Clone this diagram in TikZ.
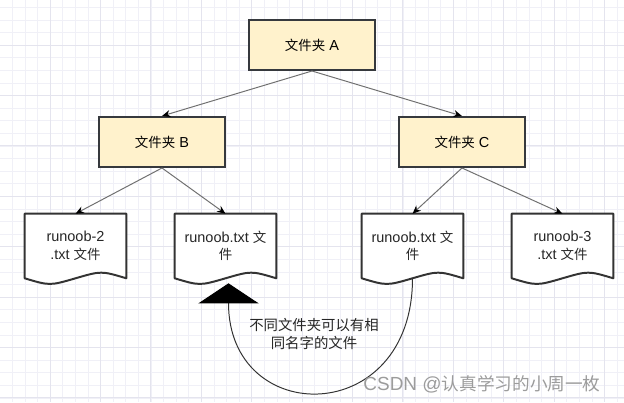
\documentclass[tikz,border=0pt]{standalone}
\usepackage{fontspec}
\setmainfont{Liberation Sans}
\newfontfamily\cjk[Scale=0.93]{Noto Sans CJK SC}
\usepackage{tikz}
\usetikzlibrary{arrows.meta,positioning,calc,backgrounds}
\definecolor{folderfill}{HTML}{FFF2CC}
\definecolor{folderline}{HTML}{36393D}
\definecolor{fileline}{HTML}{333333}
\definecolor{linkgray}{HTML}{707070}
\definecolor{gridminor}{HTML}{F0F0F7}
\definecolor{gridmajor}{HTML}{E4E4EE}
\definecolor{markgray}{HTML}{9C9C9C}
\newcommand{\zh}[1]{{\cjk #1}}
\newcommand{\fileoutline}[1]{%
  \draw[fileedge] (#1.north west) -- (#1.north east) -- (#1.south east)
    .. controls ($(#1.south east)+(-25,-7.5)$) .. (#1.south)
    .. controls ($(#1.south west)+(25,7.5)$) .. (#1.south west) -- cycle;}

\begin{document}
\begin{tikzpicture}[x=0.025cm, y=-0.025cm,
    font=\fontsize{10.3}{12.5}\selectfont,
    folder/.style={draw=folderline, fill=folderfill, line width=1.4pt,
      minimum width=3.15cm, minimum height=1.25cm, inner sep=0pt},
    filebox/.style={minimum width=2.525cm, minimum height=1.6cm,
      inner sep=0pt, align=center, text=black!85},
    fileedge/.style={draw=fileline, fill=white, line width=1.4pt, line join=round},
    link/.style={draw=linkgray, line width=0.7pt,
      -{Stealth[length=6pt,width=5pt,black]}},
    samename/.style={draw=fileline, line width=0.7pt,
      -{Triangle[length=0.5cm,width=1.5cm,black]}},
    gridline/.style={draw=gridminor, line width=0.4pt},
    gridbold/.style={draw=gridmajor, line width=0.5pt}]
  \useasboundingbox (0,0) rectangle (624,402);

  % background grid
  \begin{scope}[on background layer]
    \fill[white] (0,0) rectangle (624,402);
    \foreach \gx in {12.2,24.8,...,624} \draw[gridline] (\gx,0) -- (\gx,402);
    \foreach \gy in {7.2,19.8,...,402} \draw[gridline] (0,\gy) -- (624,\gy);
    \foreach \gx in {50,100.4,...,624} \draw[gridbold] (\gx,0) -- (\gx,402);
    \foreach \gy in {45,95.4,...,402} \draw[gridbold] (0,\gy) -- (624,\gy);
  \end{scope}

  % folders
  \node[folder] (boxA) at (312,45) {\zh{文件夹} A};
  \node[folder] (boxB) at (162,142) {\zh{文件夹} B};
  \node[folder] (boxC) at (462,142) {\zh{文件夹} C};

  % files
  \node[filebox] (fileB1) at (75.5,246) {runoob-2\\.txt \zh{文件}};
  \node[filebox] (fileB2) at (225.5,246) {runoob.txt \zh{文}\\\zh{件}};
  \node[filebox] (fileC1) at (412.5,246) {runoob.txt \zh{文}\\\zh{件}};
  \node[filebox] (fileC2) at (562.5,246) {runoob-3\\.txt \zh{文件}};
  \begin{scope}[on background layer]
    \fileoutline{fileB1}
    \fileoutline{fileB2}
    \fileoutline{fileC1}
    \fileoutline{fileC2}
  \end{scope}

  \draw[link] (boxA.south) -- (boxB.north);
  \draw[link] (boxA.south) -- (boxC.north);
  \draw[link] (boxB.south) -- (fileB1.north);
  \draw[link] (boxB.south) -- (fileB2.north);
  \draw[link] (boxC.south) -- (fileC1.north);
  \draw[link] (boxC.south) -- (fileC2.north);

  % same file name in different folders
  \draw[samename] (fileC1.south)
    .. controls ($(fileC1.south)+(0,150)$) and ($(fileB2.south)+(3,150)$)
    .. ($(fileB2.south)+(3,5)$);
  \node[align=center, text=black!85, font=\fontsize{11}{13}\selectfont]
    (note) at (314,334) {\zh{不同文件夹可以有相}\\\zh{同名字的文件}};

  \node[text=markgray, font=\fontsize{13.5}{15}\selectfont]
    (mark) at (482,384) {CSDN @\zh{认真学习的小周一枚}};
\end{tikzpicture}
\end{document}
